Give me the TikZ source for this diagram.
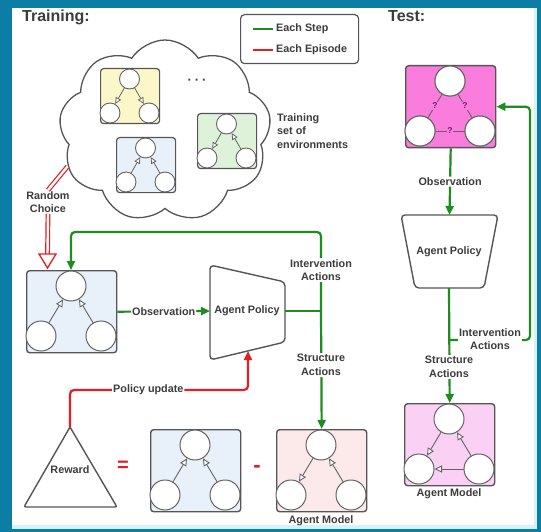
\documentclass[tikz,border=0pt]{standalone}
\usepackage{fontspec}
\setmainfont{Liberation Sans}
\usetikzlibrary{arrows.meta,shapes.symbols,shapes.geometric}
\definecolor{frameblue}{RGB}{12,125,165}
\definecolor{framecyan}{RGB}{215,243,250}
\definecolor{txt}{RGB}{60,60,60}
\definecolor{gline}{RGB}{30,140,30}
\definecolor{rline}{RGB}{228,30,36}
\definecolor{boxstroke}{RGB}{85,85,85}
\definecolor{circstroke}{RGB}{100,100,100}
\definecolor{fyellow}{RGB}{251,247,201}
\definecolor{fblue}{RGB}{232,241,250}
\definecolor{fgreen}{RGB}{221,242,217}
\definecolor{fpink}{RGB}{252,233,233}
\definecolor{fmagenta}{RGB}{250,125,222}
\definecolor{fmauve}{RGB}{250,208,245}
\definecolor{qpurple}{RGB}{110,30,110}
\tikzset{
  lbl/.style={font=\fontsize{10.8}{13.5}\selectfont\bfseries, text=txt, align=center, inner sep=1pt},
  wlbl/.style={lbl, fill=white},
  envbox/.style={draw=boxstroke, line width=1.4pt, rounded corners=3pt, inner sep=0pt, anchor=north west},
  bigc/.style={circle, draw=circstroke, fill=white, line width=1pt, minimum size=30pt, inner sep=0pt},
  smallc/.style={circle, draw=circstroke, fill=white, line width=0.9pt, minimum size=20pt, inner sep=0pt},
  garr/.style={draw=circstroke, line width=0.9pt, -{Triangle[open, length=7.5pt, width=7pt, fill=white]}},
  sgarr/.style={draw=circstroke, line width=0.8pt, -{Triangle[open, length=6.5pt, width=6pt, fill=white]}},
  gflow/.style={draw=gline, line width=2.2pt, rounded corners=4pt},
  garrow/.style={gflow, -{Triangle[length=9pt, width=8pt]}},
  rflow/.style={draw=rline, line width=2.2pt, rounded corners=4pt},
  rarrow/.style={rflow, -{Triangle[length=9pt, width=8pt]}},
  qlbl/.style={font=\fontsize{8.5}{9}\selectfont\bfseries, text=qpurple, fill=fmagenta, inner sep=0.8pt},
  policy/.style={draw=boxstroke, fill=white, line width=1.4pt, rounded corners=4pt},
}
\newcommand\smallenv[4]{%
  \node[envbox, fill=#4, minimum width=59pt, minimum height=55pt, line width=1.2pt] (#1) at (#2,#3) {};
  \node[smallc] (#1T) at ({#2+29.5},{#3+11}) {};
  \node[smallc] (#1L) at ({#2+10},{#3+45}) {};
  \node[smallc] (#1R) at ({#2+49},{#3+45}) {};}
\newcommand\bigenv[4]{%
  \node[envbox, fill=#4, minimum width=90pt, minimum height=82pt] (#1) at (#2,#3) {};
  \node[bigc] (#1T) at ({#2+45},{#3+16}) {};
  \node[bigc] (#1L) at ({#2+15},{#3+66}) {};
  \node[bigc] (#1R) at ({#2+75},{#3+66}) {};}
\begin{document}
\begin{tikzpicture}[x=1pt,y=-1pt]
\useasboundingbox (0,0) rectangle (541,532);
\fill[frameblue] (0,0) rectangle (541,532);
\fill[framecyan] (12,8) rectangle (537,529);
\fill[white] (12,8) rectangle (534,525);

% titles
\node[font=\fontsize{16}{18}\selectfont\bfseries, text=txt, anchor=base west, inner sep=0pt] (ttrain) at (22,22) {Training:};
\node[font=\fontsize{16}{18}\selectfont\bfseries, text=txt, anchor=base west, inner sep=0pt] (ttest) at (388,22) {Test:};

% legend
\node[draw=boxstroke, line width=1.2pt, rounded corners=4pt, minimum width=118pt, minimum height=49pt, anchor=north west, inner sep=0pt] (legend) at (240,14) {};
\coordinate (lgA) at (253,29); \coordinate (lgB) at (273,29);
\coordinate (lrA) at (253,50); \coordinate (lrB) at (273,50);
\draw[draw=gline, line width=2.2pt] (lgA) -- (lgB);
\draw[draw=rline, line width=2.2pt] (lrA) -- (lrB);
\node[lbl, anchor=west] (lstep) at (275,29) {Each Step};
\node[lbl, anchor=west] (lepi) at (275,50) {Each Episode};

% cloud
\node[cloud, draw=boxstroke, line width=1.3pt, cloud puffs=9, cloud puff arc=115, aspect=1.2, minimum width=212pt, minimum height=182pt, inner sep=0pt, fill=white, shape border rotate=10] (cloud) at (165,131) {};
\smallenv{ey}{100}{68}{fyellow}
\draw[sgarr] (eyT) -- (eyL); \draw[sgarr] (eyT) -- (eyR);
\smallenv{eb}{116}{137}{fblue}
\draw[sgarr] (ebL) -- (ebT); \draw[sgarr] (ebR) -- (ebT);
\smallenv{eg}{197}{113}{fgreen}
\draw[sgarr] (egT) -- (egL); \draw[sgarr] (egR) -- (egT);
\node[font=\fontsize{13}{14}\selectfont\bfseries, text=txt] (dots) at (197,82) {·\hspace{3pt}·\hspace{3pt}·};
\node[lbl, anchor=west, align=left] (tset) at (276,131) {Training\\set of\\environments};

% random choice
\node[lbl] (rc) at (48,202) {Random\\Choice};
\coordinate (rcTip) at (47.5,268);
\coordinate (rcBase) at (47.5,255);
\draw[draw=rline, double=white, double distance=2.4pt, line width=1.2pt] (cloud.200) -- (rc.north);
\draw[draw=rline, double=white, double distance=2.4pt, line width=1.2pt] (rc.south) -- (rcBase);
\draw[draw=rline, fill=white, line width=1.3pt, line join=miter] (39,254) -- (56,254) -- (rcTip) -- cycle;

% training environment
\bigenv{env}{26}{270}{fblue}
\draw[garr] (envL) -- (envT); \draw[garr] (envR) -- (envT);

% training policy
\draw[policy] (210,265) -- (285,282) -- (285,342) -- (210,360) -- cycle;
\node[lbl] (polT) at (247,311) {Agent Policy};
\coordinate (polTin) at (210,311);
\coordinate (polTout) at (285,311);
\coordinate (polTbot) at (248,351);
\coordinate (junc) at (321,311);

\draw[garrow] (env.east) -- node[wlbl]{Observation} (polTin);
\draw[gflow] (polTout) -- (junc);
\draw[garrow] (junc) -- ++(0,-79) -| (envT.north |- env.north);

% reward
\draw[draw=boxstroke, fill=white, line width=1.4pt, rounded corners=2pt] (70,427) -- (117,507) -- (24,507) -- cycle;
\node[lbl] (reward) at (70,470) {Reward};
\coordinate (rewTop) at (70,428);
\draw[rarrow] (rewTop) |- node[pos=0.72, wlbl]{Policy update} (polTbot |- 0,390) -- (polTbot);
\node[font=\fontsize{20}{20}\selectfont\bfseries, text=rline] (eq) at (123,466) {=};
\node[font=\fontsize{22}{20}\selectfont\bfseries, text=rline] (minus) at (257,469) {-};

% ground truth and agent model
\bigenv{gt}{150}{429}{fblue}
\draw[garr] (gtL) -- (gtT); \draw[garr] (gtR) -- (gtT);
\bigenv{am}{276}{429}{fpink}
\draw[garr] (amT) -- (amL); \draw[garr] (amR) -- (amT);
\node[lbl] (amlbl) at (321,521) {Agent Model};

\draw[garrow] (junc) -- (am.north);
\node[wlbl] (intT) at (321,270) {Intervention\\Actions};
\node[wlbl] (strT) at (321,365) {Structure\\Actions};

% ===== Test =====
\bigenv{mag}{405}{65}{fmagenta}
\draw[draw=circstroke, line width=0.9pt] (magT) -- node[qlbl]{?} (magL);
\draw[draw=circstroke, line width=0.9pt] (magT) -- node[qlbl]{?} (magR);
\draw[draw=circstroke, line width=0.9pt] (magL) -- node[qlbl]{?} (magR);
\node[bigc] at (magT) {}; \node[bigc] at (magL) {}; \node[bigc] at (magR) {};

\draw[policy] (401,215) -- (498,215) -- (484,288) -- (415,288) -- cycle;
\node[lbl] (polS) at (449,252) {Agent Policy};
\coordinate (polStop) at (449.5,215);
\coordinate (polSbot) at (449,288);
\coordinate (tjunc) at (449,340);

\draw[garrow] (mag.south) -- node[wlbl]{Observation} (polStop);

\bigenv{ams}{404}{403}{fmauve}
\draw[garr] (amsT) -- (amsL); \draw[garr] (amsR) -- (amsT); \draw[garr] (amsR) -- (amsL);
\node[lbl] (amslbl) at (449,494) {Agent Model};

\draw[garrow] (polSbot) -- (ams.north);
\draw[garrow] (tjunc) -- ++(81,0) |- (mag.east);
\node[wlbl] (intS) at (490,339) {Intervention\\Actions};
\node[wlbl] (strS) at (449,367) {Structure\\Actions};
\end{tikzpicture}
\end{document}
